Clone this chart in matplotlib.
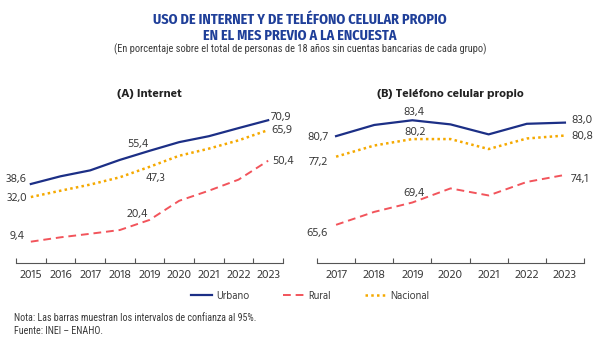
import matplotlib
matplotlib.use("Agg")
import matplotlib.pyplot as plt

# ---- datos ----
years_a = [2015, 2016, 2017, 2018, 2019, 2020, 2021, 2022, 2023]
urbano_a = [38.6, 42.5, 45.5, 50.8, 55.4, 59.8, 62.8, 66.9, 70.9]
nacional_a = [32.0, 35.2, 38.3, 42.0, 47.3, 52.9, 56.5, 60.7, 65.9]
rural_a = [9.4, 11.6, 13.4, 15.3, 20.4, 30.1, 35.2, 40.8, 50.4]

years_b = [2017, 2018, 2019, 2020, 2021, 2022, 2023]
urbano_b = [80.7, 82.6, 83.4, 82.7, 81.0, 82.8, 83.0]
nacional_b = [77.2, 79.1, 80.2, 80.2, 78.5, 80.3, 80.8]
rural_b = [65.6, 67.8, 69.4, 71.8, 70.6, 72.9, 74.1]

C_URB = "#1c2f86"
C_RUR = "#f2545b"
C_NAC = "#f5a900"
C_TXT = "#3a3a3a"
C_TIT = "#1f3f99"

plt.rcParams["font.family"] = ["Hind", "Liberation Sans", "DejaVu Sans"]
COND_B = ["Fira Sans Condensed", "Roboto Condensed", "Liberation Sans", "DejaVu Sans"]
COND = ["Roboto Condensed", "Fira Sans Condensed", "Liberation Sans", "DejaVu Sans"]

fig = plt.figure(figsize=(6.0, 3.48), dpi=100)

fig.text(0.5, 1 - 20 / 348, "USO DE INTERNET Y DE TELÉFONO CELULAR PROPIO",
         ha="center", va="center", fontsize=10.2, fontweight="bold", color=C_TIT, family=COND_B)
fig.text(0.5, 1 - 36 / 348, "EN EL MES PREVIO A LA ENCUESTA",
         ha="center", va="center", fontsize=10.2, fontweight="bold", color=C_TIT, family=COND_B)
fig.text(0.5, 1 - 49 / 348,
         "(En porcentaje sobre el total de personas de 18 años sin cuentas bancarias de cada grupo)",
         ha="center", va="center", fontsize=7.5, color=C_TXT, family=COND)

ax1 = fig.add_axes([16 / 600, 1 - 263 / 348, 267 / 600, 158 / 348])
ax2 = fig.add_axes([317 / 600, 1 - 263 / 348, 267 / 600, 158 / 348])


def draw(ax, years, urb, nac, rur, ylim, title):
    ax.plot(years, urb, color=C_URB, lw=1.6, ls="-", label="Urbano")
    ax.plot(years, rur, color=C_RUR, lw=1.4, ls=(0, (4, 2.5)), label="Rural")
    ax.plot(years, nac, color=C_NAC, lw=1.8, ls=(0, (1, 1.3)), label="Nacional")
    ax.set_xlim(years[0] - 0.5, years[-1] + 0.5)
    ax.set_ylim(*ylim)
    for s in ("left", "right", "top"):
        ax.spines[s].set_visible(False)
    ax.spines["bottom"].set_color("#555555")
    ax.spines["bottom"].set_linewidth(0.8)
    ax.set_yticks([])
    ax.set_xticks([y - 0.5 for y in years] + [years[-1] + 0.5])
    ax.set_xticklabels([])
    ax.set_xticks(years, minor=True)
    ax.set_xticklabels([str(y) for y in years], minor=True)
    ax.tick_params(axis="x", which="major", direction="in", length=3.5, width=0.8, color="#555555")
    ax.tick_params(axis="x", which="minor", length=0, labelsize=8.7, labelcolor=C_TXT, pad=5)
    ax.set_title(title, fontsize=8.8, fontweight="bold", color="#222222", pad=6)


draw(ax1, years_a, urbano_a, nacional_a, rural_a, (-1.4, 78.6), "(A) Internet")
draw(ax2, years_b, urbano_b, nacional_b, rural_b, (59.1, 86.0), "(B) Teléfono celular propio")


def lab(ax, x, v, dx, dy, ha="center"):
    ax.annotate(f"{v:.1f}".replace(".", ","), (x, v), xytext=(dx, dy), textcoords="offset pixels",
                ha=ha, va="center", fontsize=8.6, color=C_TXT)


# etiquetas panel A
lab(ax1, years_a[0], urbano_a[0], -4, 5, "right")
lab(ax1, years_a[0], nacional_a[0], -4, -1, "right")
lab(ax1, years_a[0], rural_a[0], -6, 6, "right")
lab(ax1, years_a[4], urbano_a[4], -12, 7)
lab(ax1, years_a[4], nacional_a[4], 6, -11)
lab(ax1, years_a[4], rural_a[4], -12, 6)
lab(ax1, years_a[-1], urbano_a[-1], 3, 3, "left")
lab(ax1, years_a[-1], nacional_a[-1], 3, 0, "left")
lab(ax1, years_a[-1], rural_a[-1], 4, 0, "left")

# etiquetas panel B
lab(ax2, years_b[0], urbano_b[0], -8, -1, "right")
lab(ax2, years_b[0], nacional_b[0], -8, -5, "right")
lab(ax2, years_b[0], rural_b[0], -8, -8, "right")
lab(ax2, years_b[2], urbano_b[2], 2, 8)
lab(ax2, years_b[2], nacional_b[2], 3, 7)
lab(ax2, years_b[2], rural_b[2], 2, 10)
lab(ax2, years_b[-1], urbano_b[-1], 6, 3, "left")
lab(ax2, years_b[-1], nacional_b[-1], 6, 0, "left")
lab(ax2, years_b[-1], rural_b[-1], 6, -4, "left")

handles, labels = ax1.get_legend_handles_labels()
fig.legend(handles, labels,
           loc="center", bbox_to_anchor=(310 / 600, 1 - 296 / 348), ncol=3, frameon=False,
           prop={"size": 7.6}, handlelength=2.0, columnspacing=3.2, handletextpad=0.4,
           labelcolor=C_TXT)

fig.text(14 / 600, 1 - 318 / 348, "Nota: Las barras muestran los intervalos de confianza al 95%.",
         ha="left", va="center", fontsize=7.2, color=C_TXT, family=COND)
fig.text(14 / 600, 1 - 331 / 348, "Fuente: INEI – ENAHO.",
         ha="left", va="center", fontsize=7.2, color=C_TXT, family=COND)

fig.savefig("out.png", dpi=100, facecolor="white")
